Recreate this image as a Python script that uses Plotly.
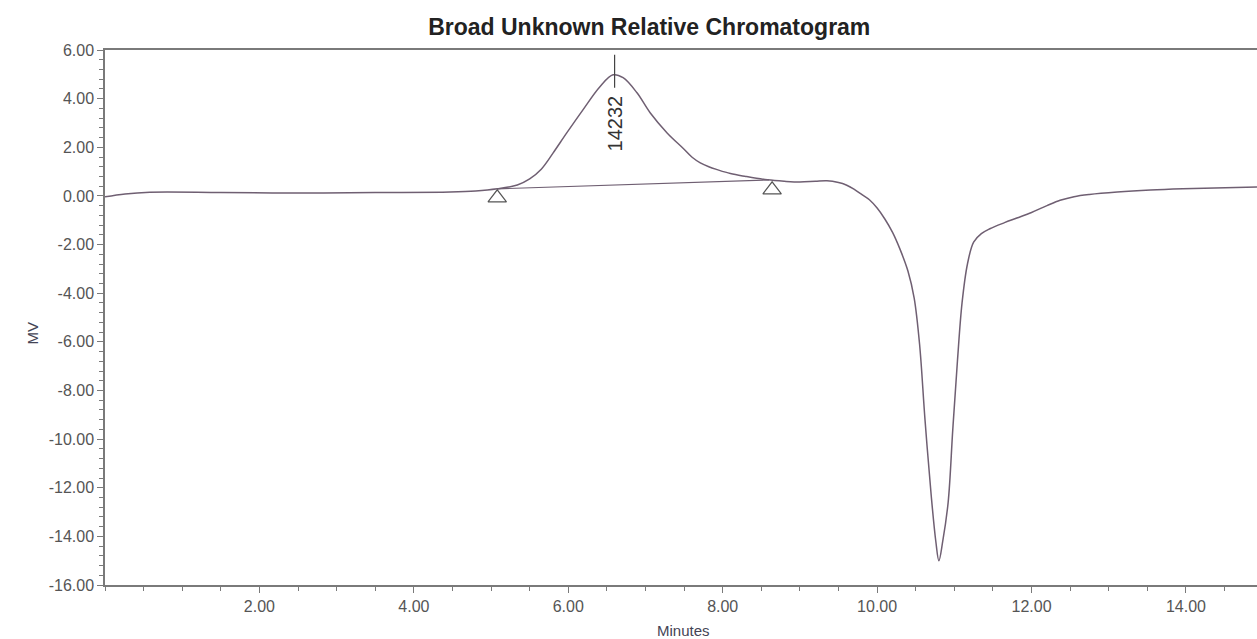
import plotly.graph_objects as go

# ---- data ----
time_min = [0.0, 0.26, 0.58, 1.5, 2.5, 3.5, 4.47, 4.8, 5.08, 5.34, 5.5, 5.65, 5.8,
            5.98, 6.19, 6.41, 6.58, 6.71, 6.89, 7.06, 7.28, 7.49, 7.6, 7.71, 7.82,
            7.93, 8.1, 8.3, 8.58, 8.8, 9.0, 9.2, 9.35, 9.5, 9.6, 9.7, 9.8, 9.9, 10.0,
            10.1, 10.2, 10.3, 10.4, 10.48, 10.55, 10.62, 10.7, 10.76, 10.8, 10.85,
            10.92, 10.98, 11.04, 11.1, 11.17, 11.25, 11.35, 11.46, 11.65, 11.81,
            12.0, 12.2, 12.37, 12.55, 12.75, 13.11, 13.54, 13.96, 14.92]
signal_mv = [-0.04, 0.08, 0.15, 0.14, 0.12, 0.14, 0.16, 0.2, 0.29, 0.45, 0.7, 1.1,
             1.75, 2.59, 3.54, 4.49, 4.98, 4.86, 4.24, 3.42, 2.59, 1.95, 1.6, 1.36,
             1.2, 1.08, 0.92, 0.8, 0.66, 0.6, 0.57, 0.6, 0.62, 0.55, 0.45, 0.28, 0.06,
             -0.16, -0.5, -0.95, -1.5, -2.22, -3.1, -4.2, -6.1, -9.2, -12.3, -14.2,
             -15.0, -14.2, -12.6, -9.6, -6.8, -4.4, -2.8, -1.9, -1.55, -1.35, -1.1,
             -0.91, -0.68, -0.4, -0.18, -0.03, 0.06, 0.16, 0.24, 0.29, 0.37]

baseline_t = [5.08, 8.6]
baseline_v = [0.29, 0.66]

event_t = [5.08, 8.64]
event_v = [-0.08, 0.25]

peak_t = [6.6]
peak_v = [4.98]
peak_label = ["14232"]

x_tickvals = [2, 4, 6, 8, 10, 12, 14]
x_ticktext = ["2.00", "4.00", "6.00", "8.00", "10.00", "12.00", "14.00"]
y_tickvals = [6, 4, 2, 0, -2, -4, -6, -8, -10, -12, -14, -16]
y_ticktext = ["6.00", "4.00", "2.00", "0.00", "-2.00", "-4.00", "-6.00", "-8.00",
              "-10.00", "-12.00", "-14.00", "-16.00"]

title_text = "Broad Unknown Relative Chromatogram"
x_title = "Minutes"
y_title = "MV"

# ---- style ----
FONT = "Arial, 'Liberation Sans', sans-serif"
LINE_COLOR = "#6f5f72"
AXIS_COLOR = "#7a7a7a"

fig = go.Figure()

fig.add_trace(go.Scatter(
    x=time_min, y=signal_mv, mode="lines",
    line=dict(color=LINE_COLOR, width=1.5, shape="spline", smoothing=1.0),
    showlegend=False, hoverinfo="x+y"))

fig.add_trace(go.Scatter(
    x=baseline_t, y=baseline_v, mode="lines",
    line=dict(color=LINE_COLOR, width=1.2),
    showlegend=False, hoverinfo="skip"))

fig.add_trace(go.Scatter(
    x=event_t, y=event_v, mode="markers",
    marker=dict(symbol="triangle-up-open", size=16, color="#555555",
                line=dict(width=1.2, color="#555555")),
    showlegend=False, hoverinfo="skip"))

# peak apex marker line and label
for pt, pv, lab in zip(peak_t, peak_v, peak_label):
    fig.add_shape(type="line", xref="x", yref="y", ysizemode="pixel",
                  x0=pt, x1=pt, yanchor=pv, y0=-13, y1=20,
                  line=dict(color="#444444", width=1.2))
    fig.add_annotation(x=pt, y=pv, xref="x", yref="y", text=lab, textangle=-90,
                       showarrow=False, xanchor="center", yanchor="top", yshift=-19,
                       font=dict(family=FONT, size=20, color="#333333"))

fig.update_layout(
    width=1257, height=639, autosize=False,
    margin=dict(l=105, r=0, t=50, b=54),
    paper_bgcolor="white", plot_bgcolor="white",
    title=dict(text="<b>" + title_text + "</b>", x=0.5165, xref="container",
               xanchor="center", y=1 - 27 / 639, yref="container", yanchor="middle",
               font=dict(family=FONT, size=23, color="#222222")),
    font=dict(family=FONT, color="#555555"),
)

fig.update_xaxes(
    range=[0, 14.92], showgrid=False, zeroline=False,
    showline=True, linecolor=AXIS_COLOR, linewidth=1.5, mirror=True,
    ticks="outside", ticklen=6, tickwidth=1, tickcolor=AXIS_COLOR,
    tickvals=x_tickvals, ticktext=x_ticktext,
    tickfont=dict(family=FONT, size=16, color="#555555"),
    minor=dict(dtick=0.5, tick0=0, ticks="outside", ticklen=4, tickcolor=AXIS_COLOR),
)

fig.update_yaxes(
    range=[-16, 6], showgrid=False, zeroline=False,
    showline=True, linecolor=AXIS_COLOR, linewidth=1.5,
    ticks="outside", ticklen=6, tickwidth=1, tickcolor=AXIS_COLOR,
    tickvals=y_tickvals, ticktext=y_ticktext,
    tickfont=dict(family=FONT, size=16, color="#555555"),
    minor=dict(dtick=0.4, tick0=0, ticks="outside", ticklen=4, tickcolor=AXIS_COLOR),
)

fig.add_annotation(text=x_title, xref="paper", yref="paper", x=0.502, y=-45 / 535,
                   xanchor="center", yanchor="middle", showarrow=False,
                   font=dict(family=FONT, size=15, color="#444455"))
fig.add_annotation(text=y_title, xref="paper", yref="paper", x=-72 / 1152, y=0.47,
                   xanchor="center", yanchor="middle", showarrow=False, textangle=-90,
                   font=dict(family=FONT, size=15, color="#444455"))

fig.write_html("out.html")
